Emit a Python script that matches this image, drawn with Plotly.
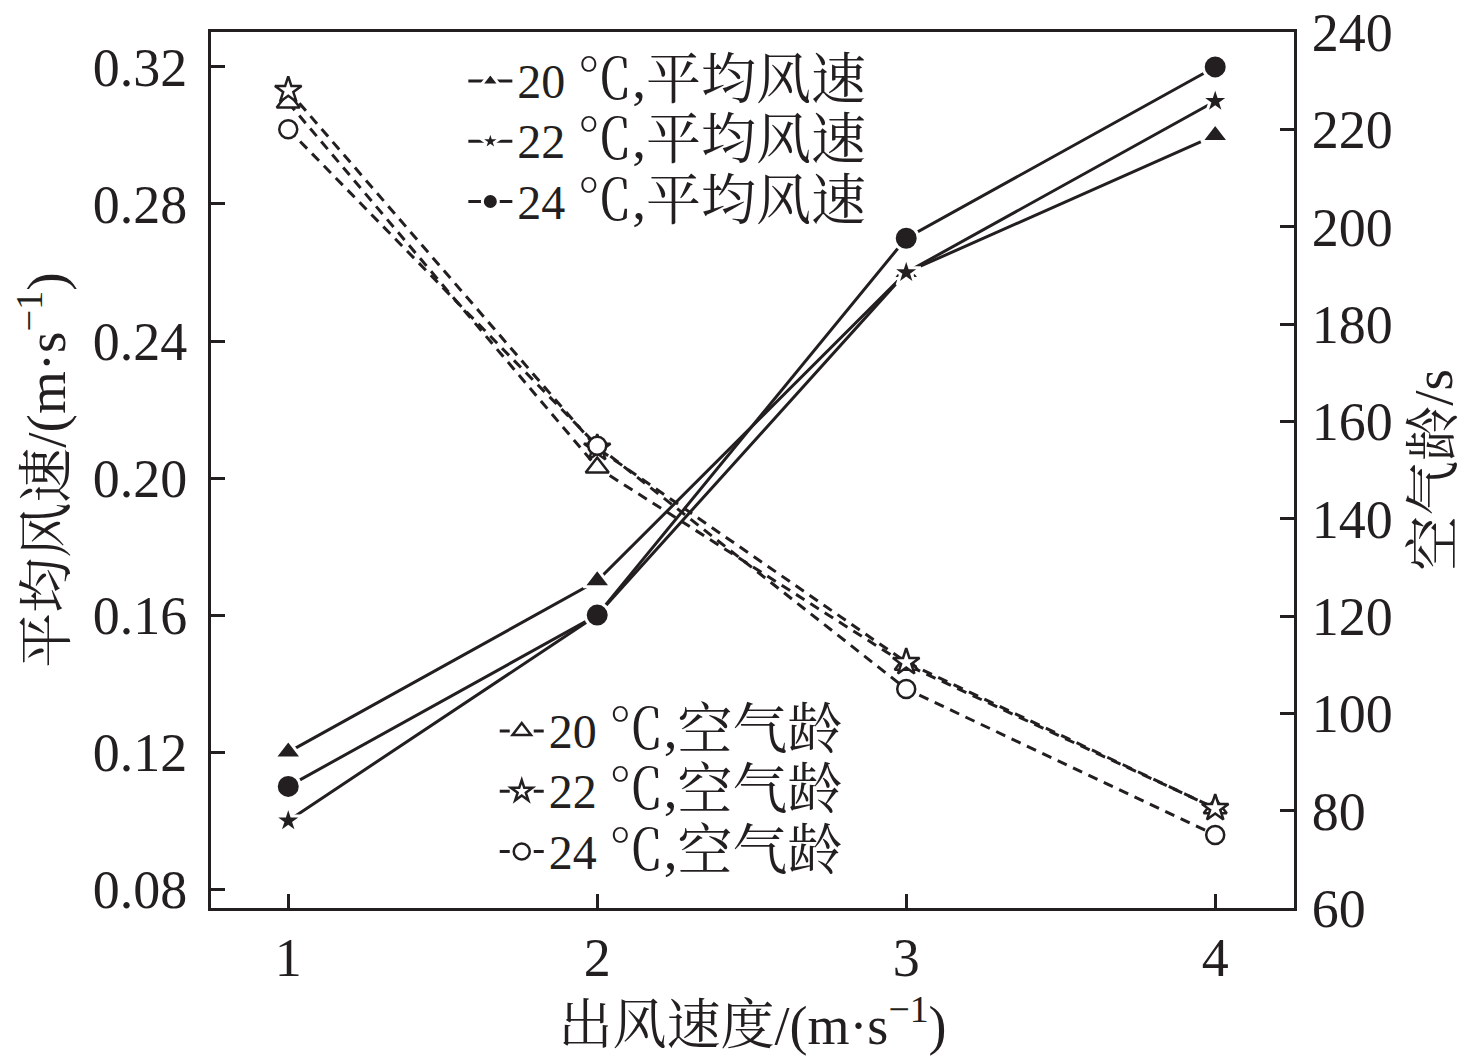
import plotly.graph_objects as go

# 出风速度 (m/s)
outlet_speed = [1, 2, 3, 4]

# 平均风速 (m/s), left axis
avg_20 = [0.12, 0.17, 0.26, 0.30]
avg_22 = [0.10, 0.16, 0.26, 0.31]
avg_24 = [0.11, 0.16, 0.27, 0.32]

# 空气龄 (s), right axis
age_20 = [225.5, 150.5, 110.0, 80.5]
age_22 = [228.0, 154.5, 110.5, 80.5]
age_24 = [220.0, 155.0, 105.0, 75.0]

FONT = "Liberation Serif, Times New Roman, Noto Serif CJK SC, Noto Sans CJK SC"
BLACK = "#231f20"


def label(t, what):
    # digits in Times-like serif, CJK a bit larger like the original
    return (f"<span style=\"font-family:'Liberation Serif';font-size:48px\">{t} </span>"
            f'<span style="font-size:55px">℃,{what}</span>')


fig = go.Figure()

solid = [("20", avg_20, "triangle-up", 24),
         ("22", avg_22, "star", 22),
         ("24", avg_24, "circle", 24)]
for t, vals, sym, sz in solid:
    fig.add_trace(go.Scatter(
        x=outlet_speed, y=vals, name=label(t, "平均风速"), mode="lines+markers",
        line=dict(color=BLACK, width=3),
        marker=dict(symbol=sym, size=sz, color=BLACK, line=dict(color="white", width=3)),
        legend="legend"))

dashed = [("20", age_20, "triangle-up", 20),
          ("22", age_22, "star", 20),
          ("24", age_24, "circle", 18)]
for t, vals, sym, sz in dashed:
    fig.add_trace(go.Scatter(
        x=outlet_speed, y=vals, name=label(t, "空气龄"), mode="lines+markers", yaxis="y2",
        line=dict(color=BLACK, width=3, dash="10px,7px"),
        marker=dict(symbol=sym, size=sz, color="white", line=dict(color=BLACK, width=2.5)),
        legend="legend2"))

axis_common = dict(ticks="inside", ticklen=14, tickwidth=3, tickcolor=BLACK,
                   showline=True, linecolor=BLACK, linewidth=3,
                   showgrid=False, zeroline=False, tickfont=dict(size=54),
                   ticklabeloverflow="allow", automargin=False)

fig.update_layout(
    width=1476, height=1056,
    margin=dict(l=203, r=190, t=24, b=156),
    paper_bgcolor="white", plot_bgcolor="white",
    font=dict(family=FONT, size=48, color=BLACK),
    xaxis=dict(
        range=[0.75, 4.255], tickvals=outlet_speed, mirror=True, ticklabelstandoff=0,
        title=dict(text="出风速度/(m·s<sup>−1</sup>)", font=dict(size=54), standoff=2),
        **axis_common),
    yaxis=dict(
        range=[0.0745, 0.3302], tickvals=[0.08, 0.12, 0.16, 0.20, 0.24, 0.28, 0.32],
        tickformat=".2f", ticklabelstandoff=10,
        title=dict(text="平均风速/(m·s<sup>−1</sup>)", font=dict(size=55), standoff=14),
        **axis_common),
    yaxis2=dict(
        overlaying="y", side="right", range=[60, 240],
        tickvals=[60, 80, 100, 120, 140, 160, 180, 200, 220, 240], ticklabelstandoff=4,
        title=dict(text="空气龄/s", font=dict(size=55), standoff=22),
        **axis_common),
    legend=dict(x=0.233, y=0.984, xanchor="left", yanchor="top",
                bgcolor="rgba(0,0,0,0)", font=dict(size=44), itemwidth=44,
                tracegroupgap=0),
    legend2=dict(x=0.262, y=0.242, xanchor="left", yanchor="top",
                 bgcolor="rgba(0,0,0,0)", font=dict(size=44), itemwidth=44,
                 tracegroupgap=0),
)

fig.write_html("out.html")
